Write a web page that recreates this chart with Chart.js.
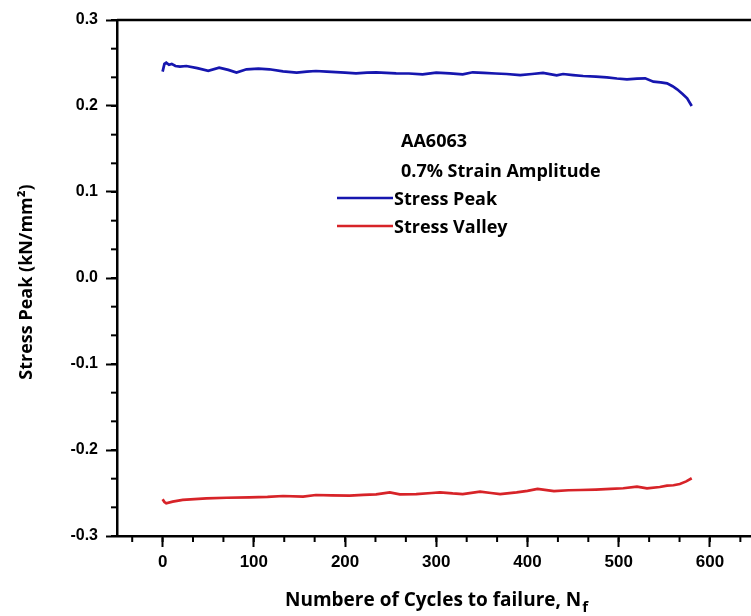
<!DOCTYPE html>
<html>
<head>
<meta charset="utf-8">
<script src="https://cdn.jsdelivr.net/npm/chart.js@4.4.1/dist/chart.umd.min.js"></script>
<style>
  html, body { margin: 0; padding: 0; background: #fff; overflow: hidden; }
  #wrap { width: 751px; height: 616px; }
</style>
</head>
<body>
<div id="wrap"><canvas id="grafico"></canvas></div>
<script>
// Datos
const peakCycles = [0, 2, 4, 7, 10, 14, 19, 26, 38, 50, 62, 72, 81, 92, 105, 117, 132, 147, 158, 168, 180, 190, 200, 212, 224, 234, 245, 256, 270, 285, 300, 315, 329, 340, 352, 365, 377, 392, 405, 417, 432, 439, 450, 461, 475, 487, 498, 509, 520, 529, 538, 546, 553, 559, 564, 570, 575, 580];
const peakValues = [0.240, 0.249, 0.2505, 0.248, 0.249, 0.2465, 0.2457, 0.2465, 0.244, 0.241, 0.2446, 0.242, 0.2388, 0.2427, 0.2435, 0.2427, 0.2403, 0.2388, 0.240, 0.2407, 0.240, 0.2395, 0.2388, 0.238, 0.2388, 0.2392, 0.2385, 0.238, 0.2378, 0.2368, 0.2388, 0.238, 0.2368, 0.2392, 0.2385, 0.2378, 0.2372, 0.236, 0.2372, 0.2384, 0.2357, 0.2372, 0.236, 0.2349, 0.2342, 0.2333, 0.232, 0.231, 0.2318, 0.2322, 0.2283, 0.2275, 0.2264, 0.223, 0.2194, 0.214, 0.209, 0.200];

const valleyCycles = [0, 2, 4, 11, 22, 35, 48, 70, 95, 115, 132, 154, 168, 185, 205, 220, 234, 249, 260, 278, 295, 304, 318, 329, 348, 360, 370, 388, 400, 411, 429, 445, 458, 475, 491, 505, 520, 531, 545, 553, 560, 567, 574, 580];
const valleyValues = [-0.2573, -0.2605, -0.262, -0.2601, -0.2581, -0.2572, -0.2562, -0.2555, -0.255, -0.2545, -0.2535, -0.2543, -0.2523, -0.2528, -0.2531, -0.2522, -0.2515, -0.2492, -0.2515, -0.2512, -0.250, -0.2492, -0.2505, -0.2512, -0.2485, -0.250, -0.2512, -0.2492, -0.2475, -0.2453, -0.2477, -0.2468, -0.2465, -0.246, -0.2453, -0.2445, -0.2426, -0.2445, -0.243, -0.2415, -0.241, -0.2395, -0.2365, -0.2329];

const xTickValues = [0, 100, 200, 300, 400, 500, 600];
const yTickValues = [-0.3, -0.2, -0.1, 0.0, 0.1, 0.2, 0.3];
const legendLabels = ['Stress Peak', 'Stress Valley'];
const noteLines = ['AA6063', '0.7% Strain Amplitude'];
const xTitle = 'Numbere of Cycles to failure, N';
const xTitleSub = 'f';
const yTitle = 'Stress Peak (kN/mm\u00B2)';

const colorPeak = 'rgb(22, 22, 175)';
const colorValley = 'rgb(215, 35, 40)';
const textFont = 'bold 18px "Open Sans"';
const xTitleFont = 'bold 19px "Open Sans"';
const subFont = 'bold 15px "Open Sans"';

function toPoints(xs, ys) {
    return xs.map((x, i) => ({ x: x, y: ys[i] }));
}

// Plugin para marcos, ticks menores, titulos y leyenda
const decoraciones = {
    id: 'decoraciones',
    afterDraw(chart) {
        const ctx = chart.ctx;
        const area = chart.chartArea;
        const xs = chart.scales.x;
        const ys = chart.scales.y;
        ctx.save();
        ctx.strokeStyle = '#000';
        ctx.fillStyle = '#000';

        // linea superior del marco
        ctx.lineWidth = 2.5;
        ctx.beginPath();
        ctx.moveTo(area.left, area.top);
        ctx.lineTo(area.right + 2, area.top);
        ctx.stroke();

        // ticks menores
        ctx.lineWidth = 2;
        for (let k = -1; k <= 20; k++) {
            const v = k * 100 / 3;
            if (v < xs.min || v > xs.max) continue;
            const px = xs.getPixelForValue(v);
            ctx.beginPath();
            ctx.moveTo(px, area.bottom);
            ctx.lineTo(px, area.bottom + 6);
            ctx.stroke();
        }
        for (let k = -9; k <= 9; k++) {
            const v = k * 0.1 / 3;
            const py = ys.getPixelForValue(v);
            ctx.beginPath();
            ctx.moveTo(area.left, py);
            ctx.lineTo(area.left - 6, py);
            ctx.stroke();
        }

        // titulo eje x con subindice
        ctx.font = xTitleFont;
        ctx.textBaseline = 'alphabetic';
        ctx.textAlign = 'left';
        const wMain = ctx.measureText(xTitle).width;
        const x0 = 285;
        ctx.fillText(xTitle, x0, 606);
        ctx.font = subFont;
        ctx.fillText(xTitleSub, x0 + wMain + 1, 612);

        // titulo eje y
        ctx.save();
        ctx.translate(32, (area.top + area.bottom) / 2 + 4);
        ctx.rotate(-Math.PI / 2);
        ctx.font = textFont;
        ctx.textAlign = 'center';
        ctx.fillText(yTitle, 0, 0);
        ctx.restore();

        // notas y leyenda
        ctx.font = textFont;
        ctx.textAlign = 'left';
        ctx.fillText(noteLines[0], 401, 147);
        ctx.fillText(noteLines[1], 401, 177);
        const colores = [colorPeak, colorValley];
        const filas = [198, 226];
        legendLabels.forEach((lab, i) => {
            ctx.strokeStyle = colores[i];
            ctx.lineWidth = 2.5;
            ctx.beginPath();
            ctx.moveTo(337, filas[i]);
            ctx.lineTo(393, filas[i]);
            ctx.stroke();
            ctx.fillStyle = '#000';
            ctx.fillText(lab, 394, filas[i] + 7);
        });
        ctx.restore();
    }
};

const ctx = document.getElementById('grafico').getContext('2d');
const chart = new Chart(ctx, {
    type: 'line',
    data: {
        datasets: [{
            label: legendLabels[0],
            data: toPoints(peakCycles, peakValues),
            borderColor: colorPeak,
            borderWidth: 2.7,
            pointRadius: 0,
            tension: 0
        }, {
            label: legendLabels[1],
            data: toPoints(valleyCycles, valleyValues),
            borderColor: colorValley,
            borderWidth: 2.7,
            pointRadius: 0,
            tension: 0
        }]
    },
    options: {
        responsive: true,
        maintainAspectRatio: false,
        animation: false,
        layout: { padding: { top: 20, right: 0, left: 0, bottom: 0 } },
        plugins: {
            legend: { display: false },
            tooltip: { enabled: false }
        },
        scales: {
            x: {
                type: 'linear',
                min: -50,
                max: 645,
                afterFit: function(scale) { scale.height = 80; },
                afterBuildTicks: function(scale) {
                    scale.ticks = xTickValues.map(v => ({ value: v }));
                },
                border: { color: '#000', width: 2.5 },
                grid: { drawOnChartArea: false, color: '#000', tickLength: 11, tickWidth: 2 },
                ticks: {
                    color: '#000',
                    padding: 5,
                    maxRotation: 0,
                    font: { family: 'Liberation Sans', weight: 'bold', size: 17 },
                    callback: v => String(v)
                }
            },
            y: {
                type: 'linear',
                min: -0.3,
                max: 0.3,
                afterFit: function(scale) { scale.width = 117; },
                afterBuildTicks: function(scale) {
                    scale.ticks = yTickValues.map(v => ({ value: v }));
                },
                border: { color: '#000', width: 2.5 },
                grid: { drawOnChartArea: false, color: '#000', tickLength: 11, tickWidth: 2 },
                ticks: {
                    color: '#000',
                    padding: 8,
                    font: { family: 'Liberation Sans', weight: 'bold', size: 16 },
                    callback: v => Number(v).toFixed(1)
                }
            }
        }
    },
    plugins: [decoraciones]
});
</script>
</body>
</html>
